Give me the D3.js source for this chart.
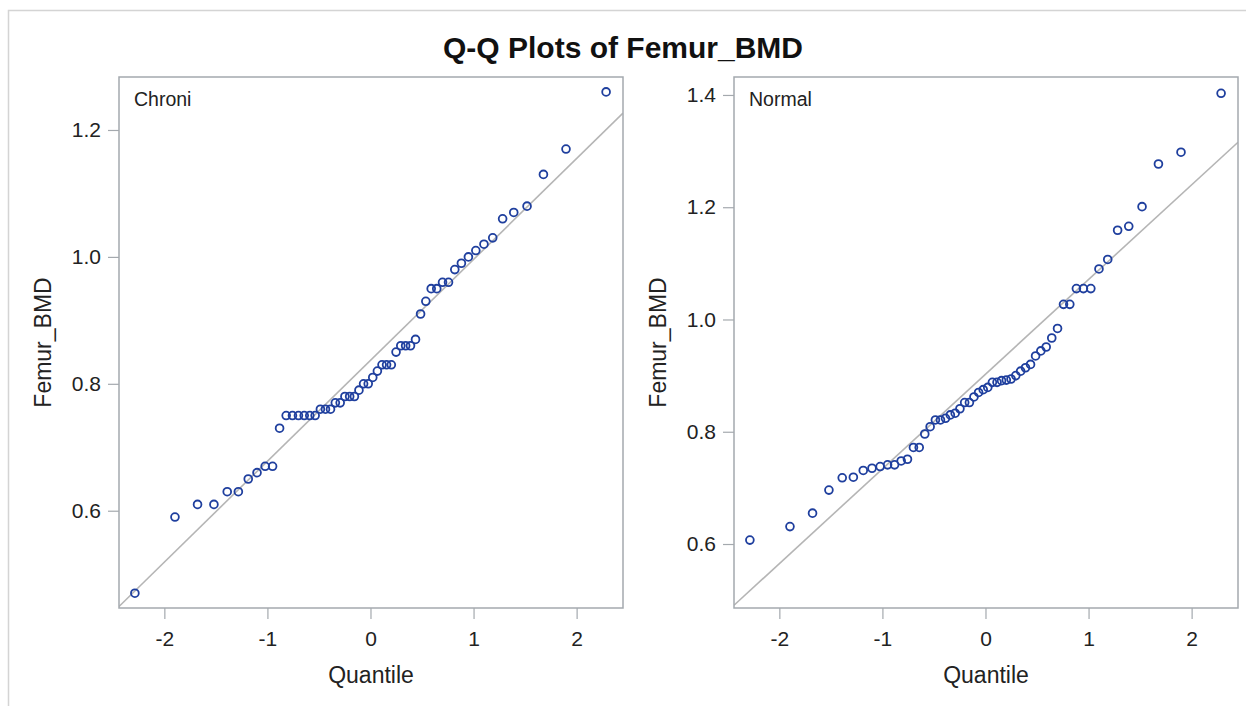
<!DOCTYPE html>
<html lang="en">
<head>
    <meta charset="UTF-8">
    <title>Q-Q Plots of Femur_BMD</title>
    <script src="https://d3js.org/d3.v7.min.js"></script>
    <style>
        body { margin: 0; background: #fff; }
        svg { display: block; font-family: "Liberation Sans", Arial, sans-serif; }
    </style>
</head>
<body>
    <div id="container"></div>

    <script>
        // Normal quantiles (x positions) shared by both panels, n = 56
        const quantiles = [
            -2.286, -1.897, -1.678, -1.519, -1.390, -1.282, -1.186, -1.101, -1.022, -0.950,
            -0.882, -0.818, -0.757, -0.699, -0.643, -0.589, -0.537, -0.486, -0.437, -0.388,
            -0.341, -0.294, -0.248, -0.202, -0.156, -0.112, -0.067, -0.022, 0.022, 0.067,
            0.112, 0.156, 0.202, 0.248, 0.294, 0.341, 0.388, 0.437, 0.486, 0.537,
            0.589, 0.643, 0.699, 0.757, 0.818, 0.882, 0.950, 1.022, 1.101, 1.186,
            1.282, 1.390, 1.519, 1.678, 1.897, 2.286
        ];

        // Sorted Femur_BMD values
        const chroniBMD = [
            0.47, 0.59, 0.61, 0.61, 0.63, 0.63, 0.65, 0.66, 0.67, 0.67,
            0.73, 0.75, 0.75, 0.75, 0.75, 0.75, 0.75, 0.76, 0.76, 0.76,
            0.77, 0.77, 0.78, 0.78, 0.78, 0.79, 0.80, 0.80, 0.81, 0.82,
            0.83, 0.83, 0.83, 0.85, 0.86, 0.86, 0.86, 0.87, 0.91, 0.93,
            0.95, 0.95, 0.96, 0.96, 0.98, 0.99, 1.00, 1.01, 1.02, 1.03,
            1.06, 1.07, 1.08, 1.13, 1.17, 1.26
        ];
        const normalBMD = [
            0.607, 0.631, 0.655, 0.696, 0.718, 0.719, 0.731, 0.735, 0.738, 0.741,
            0.741, 0.748, 0.751, 0.772, 0.772, 0.796, 0.809, 0.821, 0.821, 0.824,
            0.830, 0.833, 0.841, 0.852, 0.852, 0.862, 0.870, 0.875, 0.879, 0.888,
            0.888, 0.891, 0.892, 0.894, 0.900, 0.908, 0.914, 0.920, 0.935, 0.944,
            0.951, 0.967, 0.984, 1.027, 1.027, 1.055, 1.055, 1.055, 1.090, 1.107,
            1.159, 1.166, 1.201, 1.277, 1.298, 1.403
        ];

        // Reference line (mu, sigma) per panel
        const chroniRef = [0.837, 0.159];
        const normalRef = [0.9025, 0.1687];

        const xTicks = [-2, -1, 0, 1, 2];
        const chroniYTicks = [0.6, 0.8, 1.0, 1.2];
        const normalYTicks = [0.6, 0.8, 1.0, 1.2, 1.4];
        const xDomain = [-2.44, 2.45];
        const chroniYDomain = [0.4467, 1.2835];
        const normalYDomain = [0.486, 1.432];

        const width = 1246;
        const height = 706;
        const boxColor = '#a4a9ae';
        const markerColor = '#1f3f9e';
        const refColor = '#b5b5b5';
        const textColor = '#222';

        const svg = d3.select("#container").append("svg")
            .attr("width", width)
            .attr("height", height);

        // outer frame
        svg.append("path")
            .attr("d", `M8.5,${height} V10.5 H${width}`)
            .attr("fill", "none")
            .attr("stroke", "#d4d4d4")
            .attr("stroke-width", 1.5);

        svg.append("text")
            .attr("x", 623)
            .attr("y", 58)
            .attr("text-anchor", "middle")
            .attr("font-size", 30)
            .attr("font-weight", "bold")
            .attr("fill", "#111")
            .text("Q-Q Plots of Femur_BMD");

        function drawPanel(id, left, label, values, ref, yDomain, yTicks) {
            const top = 77, bottom = 608, right = left + 504;
            const x = d3.scaleLinear().domain(xDomain).range([left, right]);
            const y = d3.scaleLinear().domain(yDomain).range([bottom, top]);
            const g = svg.append("g");

            svg.append("clipPath").attr("id", id)
                .append("rect")
                .attr("x", left).attr("y", top)
                .attr("width", right - left).attr("height", bottom - top);

            // axes
            const xAxis = g.append("g")
                .attr("transform", `translate(0,${bottom})`)
                .call(d3.axisBottom(x).tickValues(xTicks).tickSize(11).tickPadding(12).tickFormat(d3.format("d")));
            const yAxis = g.append("g")
                .attr("transform", `translate(${left},0)`)
                .call(d3.axisLeft(y).tickValues(yTicks).tickSize(11).tickPadding(7).tickFormat(d3.format(".1f")));
            [xAxis, yAxis].forEach(a => {
                a.select(".domain").remove();
                a.selectAll("line").attr("stroke", boxColor).attr("stroke-width", 1.2);
                a.selectAll("text").attr("fill", textColor).attr("font-size", 21)
                    .attr("font-family", "Liberation Sans, Arial, sans-serif");
            });
            xAxis.selectAll("text").text(d => d < 0 ? "-" + Math.abs(d) : d);

            // reference line
            g.append("line")
                .attr("clip-path", `url(#${id})`)
                .attr("x1", x(xDomain[0])).attr("y1", y(ref[0] + ref[1] * xDomain[0]))
                .attr("x2", x(xDomain[1])).attr("y2", y(ref[0] + ref[1] * xDomain[1]))
                .attr("stroke", refColor)
                .attr("stroke-width", 1.6);

            // markers
            g.selectAll(".pt").data(values)
                .enter().append("circle")
                .attr("class", "pt")
                .attr("cx", (d, i) => x(quantiles[i]))
                .attr("cy", d => y(d))
                .attr("r", 3.9)
                .attr("fill", "none")
                .attr("stroke", markerColor)
                .attr("stroke-width", 1.8);

            // frame
            g.append("rect")
                .attr("x", left).attr("y", top)
                .attr("width", right - left).attr("height", bottom - top)
                .attr("fill", "none")
                .attr("stroke", boxColor)
                .attr("stroke-width", 1.5);

            g.append("text")
                .attr("x", left + 15)
                .attr("y", 106)
                .attr("font-size", 19.5)
                .attr("fill", textColor)
                .text(label);

            g.append("text")
                .attr("x", (left + right) / 2)
                .attr("y", 683)
                .attr("text-anchor", "middle")
                .attr("font-size", 23)
                .attr("fill", textColor)
                .text("Quantile");

            g.append("text")
                .attr("transform", `translate(${left - 68},${(top + bottom) / 2}) rotate(-90)`)
                .attr("text-anchor", "middle")
                .attr("font-size", 23)
                .attr("fill", textColor)
                .text("Femur_BMD");
        }

        drawPanel("clipL", 119, "Chroni", chroniBMD, chroniRef, chroniYDomain, chroniYTicks);
        drawPanel("clipR", 734, "Normal", normalBMD, normalRef, normalYDomain, normalYTicks);
    </script>
</body>
</html>
